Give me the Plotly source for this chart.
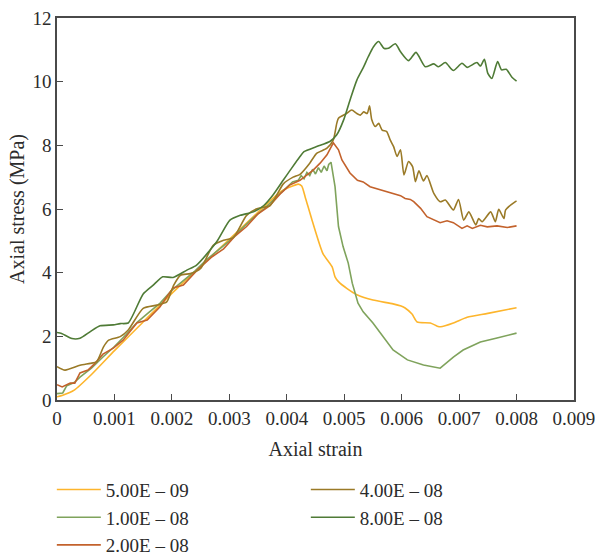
import plotly.graph_objects as go

# Axial strain / axial stress (MPa) curves for five loading rates
labels = ["5.00E – 09", "1.00E – 08", "2.00E – 08", "4.00E – 08", "8.00E – 08"]
colors = ["#FDB52C", "#7FA35C", "#C3622C", "#9A7A27", "#4F7B36"]

strain_a = [0, 0.0001, 0.0003, 0.0006, 0.001, 0.0015, 0.002, 0.0025, 0.003, 0.0035,
            0.0039, 0.0041, 0.0042, 0.00426, 0.00432, 0.00444, 0.00463, 0.00479, 0.00484,
            0.0049, 0.00505, 0.00523, 0.0055, 0.00585, 0.00599, 0.00606, 0.00618, 0.00627,
            0.0065, 0.00662, 0.00668, 0.0069, 0.00714, 0.0075, 0.008]
stress_a = [0.1, 0.15, 0.31, 0.8, 1.55, 2.45, 3.35, 4.2, 5.05, 5.9,
            6.55, 6.72, 6.78, 6.72, 6.38, 5.65, 4.6, 4.18, 3.87,
            3.72, 3.5, 3.3, 3.14, 3.02, 2.95, 2.89, 2.7, 2.45,
            2.42, 2.32, 2.3, 2.42, 2.6, 2.72, 2.9]

strain_b = [0, 0.0001, 0.00017, 0.0003, 0.0004, 0.0006, 0.0008, 0.001, 0.0012, 0.0014,
            0.0016, 0.0018, 0.002, 0.0022, 0.0024, 0.0026, 0.0028, 0.003, 0.0032, 0.0034,
            0.0036, 0.0038, 0.004, 0.0041, 0.0042, 0.00425, 0.0043, 0.00435, 0.0044, 0.00445,
            0.0045, 0.00455, 0.0046, 0.00465, 0.0047, 0.00473, 0.00477, 0.0048, 0.00484,
            0.0049, 0.00498, 0.00507, 0.00514, 0.00524, 0.00533, 0.0055, 0.00568, 0.00585,
            0.0061, 0.00638, 0.00667, 0.0069, 0.00707, 0.00737, 0.00766, 0.008]
stress_b = [0.2, 0.22, 0.45, 0.55, 0.72, 1.0, 1.35, 1.68, 2.05, 2.45,
            2.75, 3.05, 3.45, 3.75, 4.05, 4.4, 4.7, 5.0, 5.35, 5.7,
            6.0, 6.35, 6.7, 6.85, 6.9, 7.05, 6.95, 7.15, 7.05, 7.25,
            7.1, 7.3, 7.15, 7.35, 7.2, 7.4, 7.47, 7.1, 6.7,
            5.45, 4.82, 4.3, 3.67, 3.04, 2.77, 2.42, 1.98, 1.57,
            1.26, 1.1, 1.0, 1.35, 1.57, 1.82, 1.95, 2.1]

strain_c = [0, 0.00009, 0.00023, 0.00031, 0.0004, 0.00054, 0.00066, 0.0008, 0.00098, 0.00115,
            0.00139, 0.00157, 0.00179, 0.00202, 0.0022, 0.00244, 0.0027, 0.0029, 0.0031,
            0.0033, 0.0035, 0.0037, 0.0039, 0.00405, 0.00423, 0.00446, 0.00458, 0.0047,
            0.00481, 0.0049, 0.00496, 0.0051, 0.00523, 0.00533, 0.00545, 0.00563, 0.0058,
            0.00598, 0.00606, 0.00615, 0.00621, 0.00633, 0.00644, 0.00656, 0.00667, 0.00679,
            0.0069, 0.00705, 0.00714, 0.00723, 0.00737, 0.00749, 0.00766, 0.00784, 0.008]
stress_c = [0.48, 0.41, 0.53, 0.53, 0.85, 0.94, 1.15, 1.44, 1.63, 1.88,
            2.42, 2.51, 2.92, 3.52, 3.61, 4.08, 4.5, 4.75, 5.15,
            5.45, 5.85, 6.1, 6.5, 6.75, 6.9, 7.22, 7.44, 7.7,
            8.08, 7.86, 7.54, 7.13, 6.9, 6.85, 6.7, 6.6, 6.5,
            6.42, 6.33, 6.3, 6.23, 6.02, 5.76, 5.65, 5.57, 5.63,
            5.57, 5.39, 5.47, 5.39, 5.49, 5.44, 5.47, 5.42, 5.47]

strain_d = [0, 0.00014, 0.0004, 0.00058, 0.00069, 0.00081, 0.0009, 0.0011, 0.00124, 0.0015,
            0.00174, 0.00191, 0.00203, 0.00215, 0.00232, 0.0025, 0.00272, 0.0029, 0.00307,
            0.0033, 0.00348, 0.00371, 0.00394, 0.00411, 0.00423, 0.0044, 0.00452, 0.0047,
            0.00481, 0.00487, 0.0049, 0.00504, 0.00513, 0.00522, 0.00528, 0.00534, 0.0054,
            0.00544, 0.00548, 0.00554, 0.0056, 0.00566, 0.00574, 0.0058, 0.00586, 0.00592,
            0.00598, 0.00604, 0.00612, 0.00619, 0.00624, 0.0063, 0.00638, 0.00644, 0.00656,
            0.00667, 0.00676, 0.0069, 0.00699, 0.00708, 0.00717, 0.00729, 0.00734, 0.0074,
            0.00755, 0.00763, 0.00769, 0.00778, 0.00781, 0.00798, 0.008]
stress_d = [1.05, 0.94, 1.09, 1.15, 1.2, 1.67, 1.88, 1.99, 2.2, 2.88,
            2.98, 3.08, 3.6, 3.92, 3.97, 4.13, 4.86, 5.02, 5.1,
            5.8, 6.01, 6.11, 6.79, 7.0, 7.09, 7.44, 7.75, 7.91,
            8.17, 8.69, 8.85, 9.0, 9.11, 9.0, 8.95, 9.05, 9.0,
            9.24, 8.8, 8.59, 8.69, 8.48, 8.43, 8.17, 7.96, 7.65,
            7.86, 7.07, 7.49, 7.33, 6.86, 7.2, 6.88, 7.05, 6.49,
            6.23, 6.28, 5.97, 6.3, 5.65, 5.91, 5.5, 5.7, 5.6,
            5.91, 5.6, 5.99, 5.7, 5.97, 6.23, 6.25]

strain_e = [0, 0.00008, 0.00026, 0.0004, 0.00058, 0.00075, 0.00098, 0.0011, 0.00124, 0.0015,
            0.00167, 0.00184, 0.00202, 0.00226, 0.00243, 0.00278, 0.00301, 0.00319, 0.00342,
            0.0036, 0.00376, 0.00394, 0.00406, 0.00423, 0.0043, 0.00452, 0.00475, 0.00487,
            0.00499, 0.0051, 0.00522, 0.00534, 0.00542, 0.00551, 0.0056, 0.00569, 0.00577,
            0.00589, 0.00598, 0.00612, 0.00625, 0.00641, 0.00656, 0.00664, 0.00676, 0.0069,
            0.00705, 0.00714, 0.00731, 0.00737, 0.00744, 0.0075, 0.00757, 0.00767, 0.00774,
            0.00782, 0.00792, 0.008]
stress_e = [2.12, 2.09, 1.93, 1.94, 2.15, 2.33, 2.36, 2.4, 2.42, 3.33,
            3.6, 3.87, 3.85, 4.08, 4.24, 4.97, 5.65, 5.8, 5.91,
            6.11, 6.44, 6.91, 7.22, 7.65, 7.8, 7.96, 8.12, 8.33,
            8.8, 9.42, 10.05, 10.47, 10.79, 11.1, 11.26, 11.05, 11.05,
            11.19, 10.94, 10.66, 10.92, 10.47, 10.56, 10.47, 10.6, 10.35,
            10.58, 10.45, 10.6, 10.49, 10.7, 10.26, 10.1, 10.63, 10.37,
            10.39, 10.14, 10.02]

x_ticks = [0, 0.001, 0.002, 0.003, 0.004, 0.005, 0.006, 0.007, 0.008, 0.009]
x_tick_text = ["0", "0.001", "0.002", "0.003", "0.004", "0.005", "0.006", "0.007", "0.008", "0.009"]
y_ticks = [0, 2, 4, 6, 8, 10, 12]

strains = [strain_a, strain_b, strain_c, strain_d, strain_e]
stresses = [stress_a, stress_b, stress_c, stress_d, stress_e]
ranks = [1, 3, 5, 2, 4]   # legend: two columns, filled top-to-bottom
smooth = [True, False, False, True, True]

FONT = "Liberation Serif"
TXT = "#2b2b2b"

fig = go.Figure()
for lab, col, sx, sy, rk, sm in zip(labels, colors, strains, stresses, ranks, smooth):
    fig.add_trace(go.Scatter(
        x=sx, y=sy, name=lab, mode="lines", legendrank=rk,
        line=dict(color=col, width=1.6, shape="spline" if sm else "linear",
                  smoothing=0.6),
    ))

axis_common = dict(
    showline=True, linecolor="#4a4a4a", linewidth=1.5, mirror=True,
    ticks="inside", ticklen=6, tickwidth=1.3, tickcolor="#4a4a4a",
    showgrid=False, zeroline=False, ticklabeloverflow="allow",
    tickfont=dict(family=FONT, size=19, color=TXT),
)

fig.update_layout(
    width=595, height=556,
    margin=dict(l=57, r=21, t=18, b=156, autoexpand=False),
    paper_bgcolor="white", plot_bgcolor="white",
    font=dict(family=FONT, size=20, color=TXT),
    xaxis=dict(range=[-1e-7, 0.0090001], tickmode="array", tickvals=x_ticks,
               ticktext=x_tick_text,
               title=dict(text="Axial strain", font=dict(family=FONT, size=20, color=TXT),
                          standoff=14),
               **axis_common),
    yaxis=dict(range=[0, 12], tickmode="array", tickvals=y_ticks,
               title=dict(text="Axial stress (MPa)", font=dict(family=FONT, size=20, color=TXT),
                          standoff=2),
               **axis_common),
    showlegend=True,
    legend=dict(
        orientation="h", x=-0.01, xanchor="left", y=-0.185, yanchor="top",
        entrywidth=195, entrywidthmode="pixels", itemwidth=44,
        font=dict(family=FONT, size=19, color=TXT),
        bgcolor="rgba(0,0,0,0)", traceorder="normal",
    ),
)

fig.write_html("out.html")
